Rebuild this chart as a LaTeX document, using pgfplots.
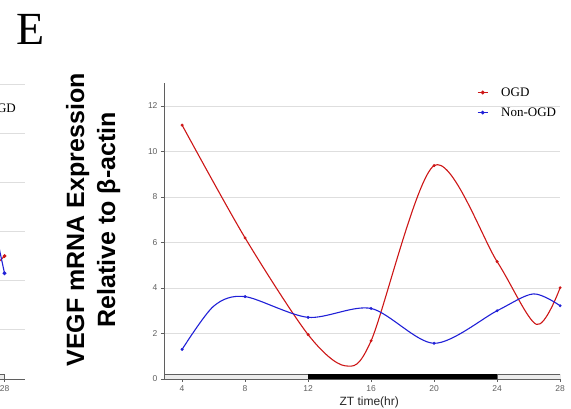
\documentclass[border=0pt]{standalone}
\usepackage{pgfplots}
\pgfplotsset{compat=1.18}
\usepackage{fontspec}
\setmainfont{Liberation Serif}
\setsansfont{Liberation Sans}
\definecolor{ogd}{RGB}{205,22,22}
\definecolor{nonogd}{RGB}{32,32,215}
\definecolor{gridc}{RGB}{222,222,222}
\definecolor{axc}{RGB}{95,95,95}
\definecolor{lightbar}{RGB}{236,236,236}
\pgfplotsset{
  common/.style={
    scale only axis,
    axis x line*=bottom, axis y line*=left,
    axis line style={axc, line width=0.9pt},
    ymajorgrids, grid style={gridc, line width=0.8pt},
    tick style={axc, line width=0.6pt}, tick align=outside, major tick length=3pt,
    ticklabel style={font=\sffamily\fontsize{8.5}{9}\selectfont, text=axc},
    /pgf/number format/assume math mode=true,
    legend style={draw=none, fill=none, font=\fontsize{13}{15}\selectfont, row sep=6pt, inner sep=2pt,
      /tikz/every odd column/.append style={column sep=11pt}},
    legend cell align=left,
    legend image code/.code={\draw[mark repeat=2, mark phase=2, #1] plot coordinates {(0pt,0pt) (5pt,0pt) (10pt,0pt)};},
  }
}
\begin{document}
\begin{tikzpicture}[x=1pt,y=1pt]
% fragment of the previous panel (D)
\begin{axis}[common,
  width=146.5pt, height=307.25pt, at={(25pt,30pt)}, anchor=south east,
  xmin=20, xmax=29.3, ymin=0, ymax=12.5,
  xtick={20,24,28}, ytick={2,4,...,12},
  legend style={at={(axis description cs:0.966,0.975)}, anchor=north east},
]
\addplot[draw=axc, fill=lightbar, line width=0.5pt, forget plot] coordinates {(24,0)(28,0)(28,0.19)(24,0.19)} -- cycle;
\addplot[ogd, line width=1.1pt, mark=*, mark size=1.3pt] coordinates {(24,2.4)(28,5.0)};
\addlegendentry{OGD}
\addplot[nonogd, line width=1.1pt, mark=*, mark size=1.3pt] coordinates {(24,16.3)(28,4.3)};
\addlegendentry{Non-OGD}
\end{axis}
% panel E
\begin{axis}[common,
  width=396.1pt, height=295.75pt, at={(164pt,30pt)}, anchor=south west,
  xmin=2.85, xmax=28, ymin=0, ymax=13,
  xtick={4,8,...,28}, ytick={0,2,...,12},
  xlabel={ZT time(hr)},
  xlabel style={font=\sffamily\fontsize{12}{14}\selectfont, text=black!85, at={(axis description cs:0.518,-0.08)}, anchor=center},
  ylabel={VEGF mRNA Expression\\Relative to β-actin},
  ylabel style={font=\sffamily\bfseries\fontsize{25}{31}\selectfont, align=center, at={(axis description cs:-0.179,0.538)}, anchor=center},
  legend style={at={(axis description cs:0.785,1.0)}, anchor=north west},
]
% light/dark bar
\addplot[draw=axc, fill=lightbar, line width=0.5pt, forget plot] coordinates {(2.85,0)(12,0)(12,0.19)(2.85,0.19)} -- cycle;
\addplot[draw=black, fill=black, line width=0.5pt, forget plot] coordinates {(12,0)(24,0)(24,0.19)(12,0.19)} -- cycle;
\addplot[draw=axc, fill=lightbar, line width=0.5pt, forget plot] coordinates {(24,0)(28,0)(28,0.19)(24,0.19)} -- cycle;
% curves (data points plus turning points)
\addplot[ogd, line width=1.1pt, smooth, forget plot] coordinates {(4,11.16)(8,6.2)(12,1.95)(14.35,0.58)(16,1.68)(20,9.38)(24,5.16)(26.5,2.4)(28,4.01)};
\addplot[nonogd, line width=1.1pt, smooth, forget plot] coordinates {(4,1.3)(6,3.2)(8,3.62)(12,2.71)(16,3.1)(20,1.57)(24,3.0)(26.3,3.74)(28,3.22)};
% measured points
\addplot[ogd, only marks, mark=*, mark size=1.3pt, forget plot] coordinates {(4,11.16)(8,6.2)(12,1.95)(16,1.68)(20,9.38)(24,5.16)(28,4.01)};
\addplot[nonogd, only marks, mark=*, mark size=1.3pt, forget plot] coordinates {(4,1.3)(8,3.62)(12,2.71)(16,3.1)(20,1.57)(24,3.0)(28,3.22)};
\addlegendimage{ogd, line width=1.1pt, mark=*, mark size=1.3pt}
\addlegendentry{OGD}
\addlegendimage{nonogd, line width=1.1pt, mark=*, mark size=1.3pt}
\addlegendentry{Non-OGD}
\end{axis}
\node[anchor=base west, inner sep=0pt, font=\fontsize{46}{50}\selectfont] at (16,364) {E};
\pgfresetboundingbox
\useasboundingbox (0,0) rectangle (571,409);
\end{tikzpicture}
\end{document}
